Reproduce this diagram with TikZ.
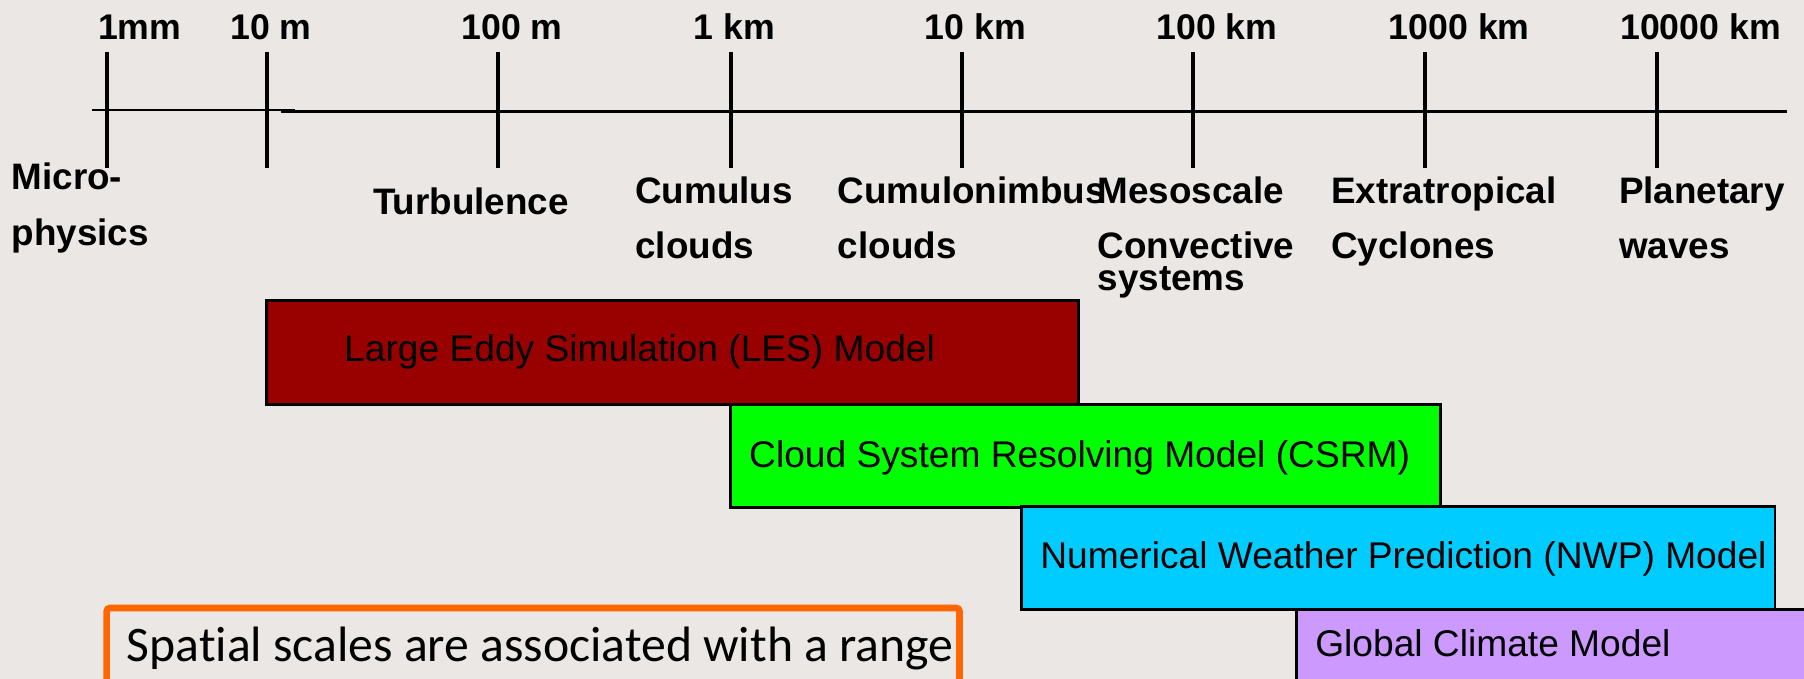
\documentclass[tikz,border=0pt]{standalone}
\usepackage{fontspec}
\setmainfont{Liberation Sans}
\newfontfamily\notefont[Ligatures=NoCommon]{Carlito}
\usetikzlibrary{positioning}

\definecolor{slidebg}{RGB}{234,231,228}
\definecolor{lesred}{RGB}{153,0,0}
\definecolor{csrmgreen}{RGB}{0,255,0}
\definecolor{nwpblue}{RGB}{0,204,255}
\definecolor{gcmviolet}{RGB}{204,153,255}
\definecolor{noteorange}{RGB}{255,102,0}

\begin{document}
\begin{tikzpicture}[x=1pt,y=-1pt,
    scalelabel/.style={anchor=base west,inner sep=0pt,font=\fontsize{31}{31}\selectfont\bfseries},
    phenom/.style={anchor=base west,inner sep=0pt,font=\fontsize{32}{32}\selectfont\bfseries},
    tickline/.style={line width=3.5pt},
    modelbox/.style={draw=black,line width=2.5pt,anchor=north west,inner sep=0pt},
    modeltext/.style={anchor=base west,inner sep=0pt,font=\fontsize{32.3}{32.3}\selectfont},
    notetext/.style={anchor=base west,inner sep=0pt,font=\notefont\fontsize{43.2}{43.2}\selectfont}]
  \clip (0,0) rectangle (1568,590);
  \fill[slidebg] (0,0) rectangle (1568,590);

  % the scale axis: a thin stub on the left, then the long line
  \coordinate (stubL) at (80,95.6);
  \coordinate (stubR) at (256,95.6);
  \coordinate (axisL) at (244,96.8);
  \coordinate (axisR) at (1553.5,96.8);
  \draw[line width=2.3pt] (stubL) -- (stubR);
  \draw[line width=2.9pt] (axisL) -- (axisR);

  % ticks and their lengths above
  \foreach \x/\lx/\txt [count=\i] in {93/85/1mm, 232/200/10 m, 433/401/100 m,
      635/603/1 km, 836/803.5/10 km, 1037/1005/100 km, 1238.5/1207/1000 km,
      1440/1408/10000 km} {
    \coordinate (tick\i) at (\x,45);
    \draw[tickline] (tick\i) -- ++(0,101);
    \node[scalelabel] (scale\i) at (\lx,34) {\txt};
  }

  % what lives at each scale
  \node[phenom] (micro) at (10,164.5) {Micro-};
  \node[phenom,below=48.5pt of micro.base west,anchor=base west] (physics) {physics};
  \node[phenom] (turb) at (324,186) {Turbulence};
  \node[phenom] (cumu) at (552,177) {Cumulus};
  \node[phenom,below=48pt of cumu.base west,anchor=base west] (cumu2) {clouds};
  \node[phenom] (cb) at (728,177) {Cumulonimbus};
  \node[phenom,below=48pt of cb.base west,anchor=base west] (cb2) {clouds};
  \node[phenom] (meso) at (954,177) {Mesoscale};
  \node[phenom,below=48pt of meso.base west,anchor=base west] (meso2) {Convective};
  \node[phenom,below=27.5pt of meso2.base west,anchor=base west] (meso3) {systems};
  \node[phenom] (extra) at (1157,177) {Extratropical};
  \node[phenom,below=48pt of extra.base west,anchor=base west] (extra2) {Cyclones};
  \node[phenom] (plan) at (1407,177) {Planetary};
  \node[phenom,below=48pt of plan.base west,anchor=base west] (plan2) {waves};

  % model ranges, stepped down to the right
  \node[modelbox,fill=lesred,minimum width=706pt,minimum height=90.6pt] (les) at (230.5,260) {};
  \node[modelbox,fill=csrmgreen,minimum width=617.2pt,minimum height=89.4pt] (csrm) at (633.6,350.6) {};
  \node[modelbox,fill=nwpblue,minimum width=655pt,minimum height=89.7pt] (nwp) at (886.5,439) {};
  \node[modelbox,fill=gcmviolet,minimum width=500pt,minimum height=120pt] (gcm) at (1126,528.7) {};

  \node[modeltext] (lestext) at ([xshift=68.5pt,yshift=-53.8pt]les.north west) {Large Eddy Simulation (LES) Model};
  \node[modeltext] (csrmtext) at ([xshift=17.4pt,yshift=-55.6pt]csrm.north west) {Cloud System Resolving Model (CSRM)};
  \node[modeltext] (nwptext) at ([xshift=17.5pt,yshift=-55pt]nwp.north west) {Numerical Weather Prediction (NWP) Model};
  \node[modeltext] (gcmtext) at ([xshift=17pt,yshift=-42pt]gcm.north west) {Global Climate Model};

  % note box, runs off the bottom
  \coordinate (noteTL) at (92.7,528.4);
  \draw[noteorange,line width=5.8pt,rounded corners=3pt] (noteTL) rectangle (834,700);
  \node[notetext] (note) at (110,575) {Spatial scales are associated with a range};
\end{tikzpicture}
\end{document}
